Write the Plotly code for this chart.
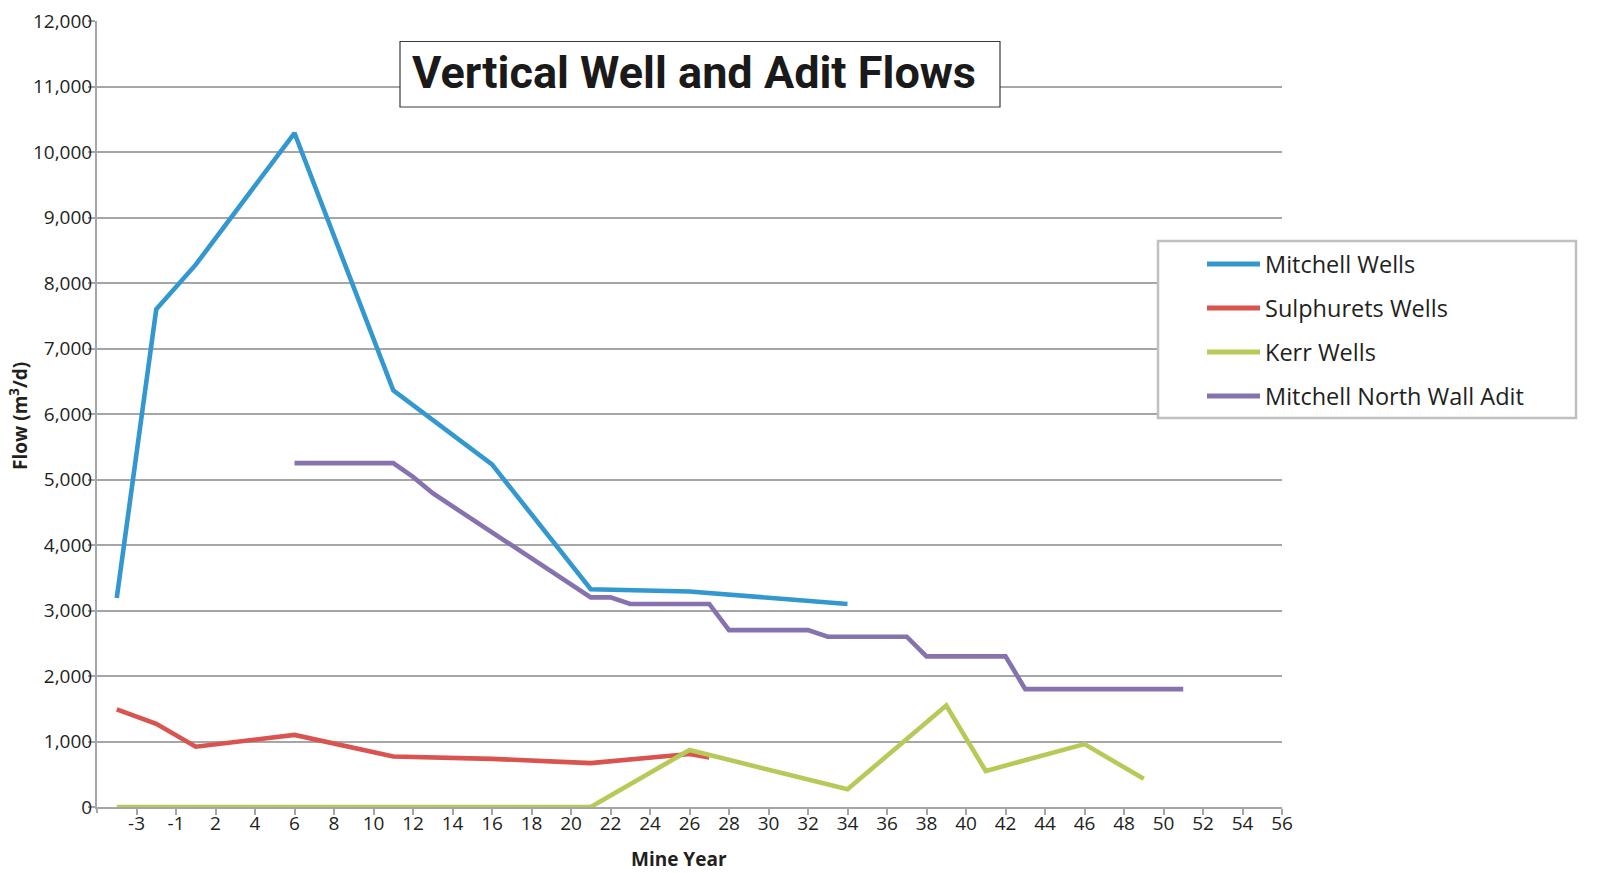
import plotly.graph_objects as go

# Mine-year categories (there is no year 0)
mine_years = [-4, -3, -2, -1] + list(range(1, 57))
tick_years = [-3, -1] + list(range(2, 57, 2))

# Flow series, m3/d, keyed by mine year
mitchell_years = [-4, -2, 1, 6, 11, 16, 21, 26, 34]
mitchell_flow = [3190, 7600, 8280, 10290, 6360, 5230, 3325, 3290, 3100]

sulphurets_years = [-4, -2, 1, 6, 11, 16, 21, 26, 27]
sulphurets_flow = [1490, 1270, 920, 1100, 770, 735, 670, 810, 755]

kerr_years = [-4, 21, 26, 34, 39, 41, 46, 49]
kerr_flow = [0, 0, 870, 270, 1550, 550, 960, 430]

adit_years = [6, 11, 12, 13, 21, 22, 23, 27, 28, 32, 33, 37, 38, 42, 43, 51]
adit_flow = [5250, 5250, 5040, 4790, 3200, 3200, 3100, 3100, 2700, 2700,
             2600, 2600, 2300, 2300, 1800, 1800]

series_names = ["Mitchell Wells", "Sulphurets Wells", "Kerr Wells",
                "Mitchell North Wall Adit"]
series_colors = ["#3398cf", "#d9534f", "#b8c957", "#8672ae"]
series_x = [mitchell_years, sulphurets_years, kerr_years, adit_years]
series_y = [mitchell_flow, sulphurets_flow, kerr_flow, adit_flow]

W, H = 1619, 873
L, R, T, B = 97, 337, 21, 66
PW, PH = W - L - R, H - T - B


def px_x(px):
    return (px - L) / PW


def px_y(py):
    return (H - B - py) / PH


GRID = "#a6a6a6"
TEXT = "#231f20"
FONT = "Open Sans"

fig = go.Figure()
for name, color, xs, ys in zip(series_names, series_colors, series_x, series_y):
    fig.add_trace(go.Scatter(
        x=[str(v) for v in xs], y=ys, name=name, mode="lines",
        line=dict(color=color, width=4.6), showlegend=False,
    ))

fig.update_layout(
    width=W, height=H,
    margin=dict(l=L, r=R, t=T, b=B, autoexpand=False),
    paper_bgcolor="white", plot_bgcolor="white",
    font=dict(family=FONT, color=TEXT, size=19),
    xaxis=dict(
        type="category",
        categoryorder="array", categoryarray=[str(v) for v in mine_years],
        range=[-1, len(mine_years) - 1],
        tickmode="array", tickvals=[str(v) for v in tick_years],
        ticktext=[str(v) for v in tick_years],
        ticks="outside", ticklen=6, tickwidth=2, tickcolor=GRID,
        ticklabelstandoff=-8,
        showline=True, linecolor=GRID, linewidth=2,
        showgrid=False, zeroline=False,
        tickfont=dict(size=19, color=TEXT),
    ),
    yaxis=dict(
        range=[0, 12000], tickmode="linear", tick0=0, dtick=1000,
        tickformat=",d",
        ticks="outside", ticklen=7, tickwidth=2, tickcolor=GRID,
        ticklabelstandoff=-8,
        showline=True, linecolor=GRID, linewidth=2,
        showgrid=True, gridcolor=GRID, gridwidth=2,
        zeroline=False,
        tickfont=dict(size=19, color=TEXT),
    ),
)

shapes = []
annotations = []

# tick at the axis origin
shapes.append(dict(type="line", xref="paper", yref="paper",
                   x0=0, x1=0, y0=0, y1=-6 / PH,
                   line=dict(color=GRID, width=2)))

# title box
shapes.append(dict(type="rect", xref="paper", yref="paper",
                   x0=px_x(400), x1=px_x(1000), y0=px_y(107), y1=px_y(41.5),
                   fillcolor="white", line=dict(color="#3a3a3a", width=1.2),
                   layer="above"))
annotations.append(dict(
    text="<b>Vertical Well and Adit Flows</b>", showarrow=False,
    xref="paper", yref="paper", x=px_x(694), y=px_y(72),
    xanchor="center", yanchor="middle",
    font=dict(family="Roboto", size=45, color="#1a1a1a"),
))

# axis titles
annotations.append(dict(
    text="<b>Mine Year</b>", showarrow=False, xref="paper", yref="paper",
    x=px_x(679), y=px_y(859), xanchor="center", yanchor="middle",
    font=dict(family=FONT, size=19, color=TEXT),
))
annotations.append(dict(
    text="<b>Flow (m<sup>3</sup>/d)</b>", showarrow=False, xref="paper",
    yref="paper", x=px_x(19), y=px_y(416), xanchor="center",
    yanchor="middle", textangle=-90,
    font=dict(family=FONT, size=19, color=TEXT),
))

# legend panel
shapes.append(dict(type="rect", xref="paper", yref="paper",
                   x0=px_x(1158), x1=px_x(1576), y0=px_y(418), y1=px_y(241),
                   fillcolor="white", line=dict(color="#c0c0c0", width=2.5),
                   layer="above"))
row_y = [264, 308, 352, 396]
for name, color, ry in zip(series_names, series_colors, row_y):
    shapes.append(dict(type="line", xref="paper", yref="paper",
                       x0=px_x(1207), x1=px_x(1260), y0=px_y(ry), y1=px_y(ry),
                       line=dict(color=color, width=5), layer="above"))
    annotations.append(dict(
        text=name, showarrow=False, xref="paper", yref="paper",
        x=px_x(1263), y=px_y(ry), xanchor="left", yanchor="middle",
        font=dict(family=FONT, size=23.5, color=TEXT),
    ))

fig.update_layout(shapes=shapes, annotations=annotations)
fig.write_html("out.html")
